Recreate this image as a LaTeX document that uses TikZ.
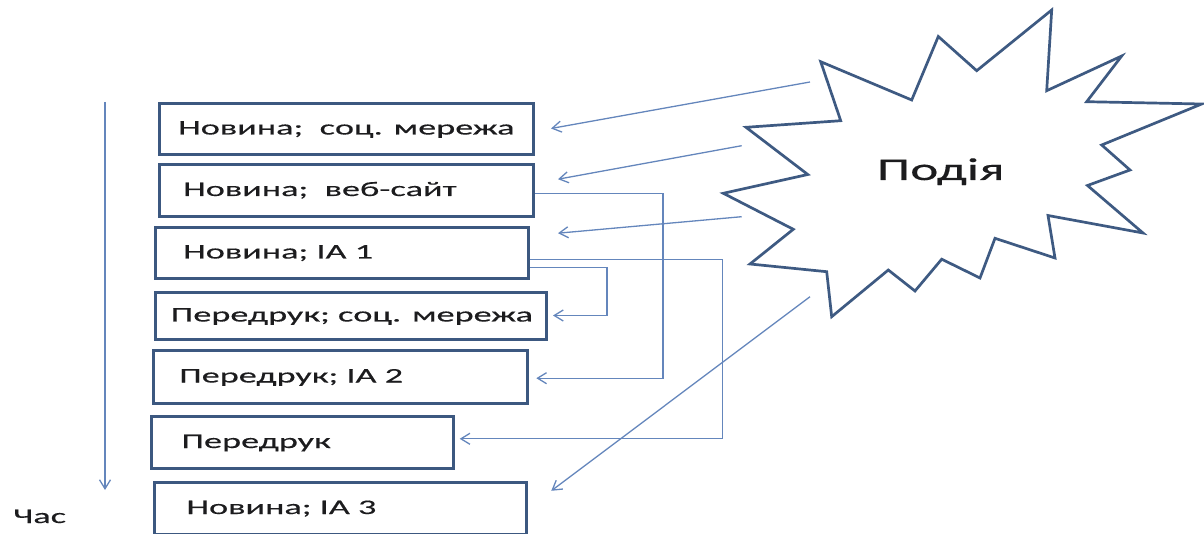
\documentclass[tikz,border=0pt]{standalone}
\usepackage{fontspec}
\setmainfont{Carlito}
\newfontfamily\bxfont{Carlito}[FakeStretch=1.75,FakeBold=0.4]
\newfontfamily\evfont{Carlito}[FakeStretch=1.7,FakeBold=0.4]
\usetikzlibrary{arrows.meta}
\definecolor{boxc}{RGB}{60,88,128}
\definecolor{starc}{RGB}{62,90,130}
\definecolor{connc}{RGB}{100,134,188}
\definecolor{txtc}{RGB}{28,28,30}
\begin{document}
\begin{tikzpicture}[x=1pt,y=-1pt,
  boxnode/.style={draw=boxc, line width=3pt, anchor=north west, inner sep=0pt,
    text height=11pt, text depth=0pt, text=txtc,
    font=\bxfont\fontsize{20.7pt}{24pt}\selectfont},
  conn/.style={draw=connc, line width=1.3pt,
    -{Straight Barb[length=9pt,width=11pt]}},
  starline/.style={draw=starc, line width=2.7pt, line join=miter, fill=white},
  lbl/.style={anchor=base west, inner sep=0pt, text=txtc}]
\useasboundingbox (0,0) rectangle (1204,534);

% event star
\draw[starline] (820.7,61.7) -- (911.7,100) -- (938.3,36.5) -- (976.7,70.7)
  -- (1051.7,10) -- (1046.7,90.7) -- (1121.7,56) -- (1086.7,101.7)
  -- (1201.7,104) -- (1101.7,145) -- (1130,170) -- (1087.5,185.5)
  -- (1143,233) -- (1048,215.5) -- (1055,258) -- (995,238.3)
  -- (980,278) -- (941.7,259.2) -- (915,291) -- (888.3,270)
  -- (831.7,316.7) -- (826.7,271.7) -- (750,264) -- (793.3,229.3)
  -- (723.3,193.3) -- (807.8,174.5) -- (746,127.3) -- (840.7,120.7) -- cycle;
\node[lbl, font=\evfont\fontsize{31.5pt}{36pt}\selectfont] (ev) at (876.7,180) {Подія};

% boxes
\node[boxnode, minimum height=51pt] (b1) at (158,102)
  {\makebox[374pt][l]{\hspace*{18.7pt}Новина;\ \ соц. мережа}};
\node[boxnode, minimum height=52pt] (b2) at (158,163)
  {\makebox[374pt][l]{\hspace*{23.7pt}Новина;\ \ веб-сайт}};
\node[boxnode, minimum height=51pt] (b3) at (154,226)
  {\makebox[373pt][l]{\hspace*{27.7pt}Новина; ІА 1}};
\node[boxnode, minimum height=47pt] (b4) at (154,291)
  {\makebox[391pt][l]{\hspace*{15.3pt}Передрук; соц. мережа}};
\node[boxnode, minimum height=53pt] (b5) at (152,349)
  {\makebox[374pt][l]{\hspace*{25.7pt}Передрук; ІА 2}};
\node[boxnode, minimum height=52pt] (b6) at (150,415)
  {\makebox[302pt][l]{\hspace*{30pt}Передрук}};
\node[boxnode, minimum height=52pt] (b7) at (153,481)
  {\makebox[372pt][l]{\hspace*{32pt}Новина; ІА 3}};

% time axis
\coordinate (t0) at (105,102);
\coordinate (t1) at (105,490);
\draw[conn] (t0) -- (t1);
\node[lbl, font=\bxfont\fontsize{20.7pt}{24pt}\selectfont] (tl) at (13,523) {Час};

% arrows from the event
\coordinate (s1) at (810,82);
\coordinate (s2) at (741.7,145.7);
\coordinate (s3) at (741.7,216.7);
\coordinate (s4) at (810,296.7);
\draw[conn] (s1) -- ([xshift=16pt,yshift=0.5pt]b1.east);
\draw[conn] (s2) -- ([xshift=23pt,yshift=11.3pt]b2.east);
\draw[conn] (s3) -- ([xshift=28pt,yshift=19.8pt]b3.east);
\draw[conn] (s4) -- ([xshift=23.3pt,yshift=17.7pt]b7.east);

% reprint connectors
\draw[conn] ([yshift=-2.7pt]b2.east) -- ++(128,0) |- ([xshift=7.3pt,yshift=-1.2pt]b5.east);
\draw[conn] ([yshift=-6.8pt]b3.east) -- ++(192.3,0) |- ([xshift=4.7pt,yshift=3.7pt]b6.east);
\draw[conn] ([yshift=-14.2pt]b3.east) -- ++(77,0) |- ([xshift=5pt,yshift=0.5pt]b4.east);
\end{tikzpicture}
\end{document}
